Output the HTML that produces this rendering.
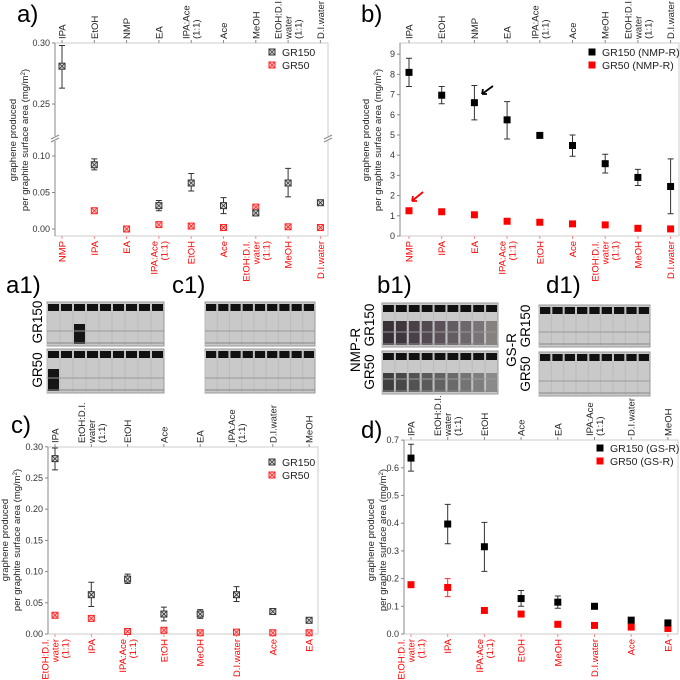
<!DOCTYPE html>
<html><head><meta charset="utf-8"><style>
body{margin:0;background:#fff}
svg{display:block;font-family:"Liberation Sans",sans-serif}
</style></head><body>
<svg id="fig" width="680" height="680" viewBox="0 0 680 680">
<text x="17" y="22" font-size="24">a)</text>
<text x="361" y="22" font-size="24">b)</text>
<text x="6" y="293" font-size="24">a1)</text>
<text x="172" y="293" font-size="24">c1)</text>
<text x="377" y="293" font-size="24">b1)</text>
<text x="546" y="293" font-size="24">d1)</text>
<text x="11" y="433" font-size="24">c)</text>
<text x="361" y="438" font-size="24">d)</text>
<g id="photos"></g>
<g id="charts"></g>
</svg>
<script>
// Panel a
const aTop=["IPA","EtOH","NMP","EA","IPA:Ace|(1:1)","Ace","MeOH","EtOH:D.I.|water|(1:1)","D.I.water"];
const aBot=["NMP","IPA","EA","IPA:Ace|(1:1)","EtOH","Ace","EtOH:D.I.|water|(1:1)","MeOH","D.I.water"];
const aBlack=[0.281,0.088,null,0.032,0.063,0.032,0.022,0.063,0.036];
const aBlackLo=[0.263,0.081,null,0.025,0.052,0.021,0.019,0.044,0.034];
const aBlackHi=[0.298,0.096,null,0.039,0.076,0.043,0.025,0.083,0.038];
const aRed=[null,0.025,0.0,0.006,0.004,0.002,0.030,0.003,0.002];
// Panel b
const bTop=["IPA","EtOH","NMP","EA","IPA:Ace|(1:1)","Ace","MeOH","EtOH:D.I.|water|(1:1)","D.I.water"];
const bBot=["NMP","IPA","EA","IPA:Ace|(1:1)","EtOH","Ace","EtOH:D.I.|water|(1:1)","MeOH","D.I.water"];
const bBlack=[8.1,6.97,6.6,5.75,4.98,4.48,3.58,2.9,2.45];
const bBlackLo=[7.4,6.55,5.75,4.8,4.85,3.95,3.12,2.5,1.1];
const bBlackHi=[8.8,7.4,7.45,6.65,5.1,5.0,4.05,3.3,3.82];
const bRed=[1.25,1.2,1.05,0.73,0.68,0.6,0.55,0.38,0.35];
const bTicks=[0,1,2,3,4,5,6,7,8,9];
// Panel c
const cTop=["IPA","EtOH:D.I.|water|(1:1)","EtOH","Ace","EA","IPA:Ace|(1:1)","D.I.water","MeOH"];
const cBot=["EtOH:D.I.|water|(1:1)","IPA","IPA:Ace|(1:1)","EtOH","MeOH","D.I.water","Ace","EA"];
const cBlack=[0.281,0.063,0.088,0.032,0.032,0.063,0.036,0.022];
const cBlackLo=[0.263,0.044,0.081,0.021,0.025,0.052,0.034,0.019];
const cBlackHi=[0.298,0.083,0.096,0.043,0.039,0.076,0.038,0.025];
const cRed=[0.030,0.025,0.004,0.006,0.002,0.003,0.002,0.002];
const cTicks=[0,0.05,0.10,0.15,0.20,0.25,0.30];
// Panel d
const dTop=["IPA","EtOH:D.I.|water|(1:1)","EtOH","Ace","EA","IPA:Ace|(1:1)","D.I.water","MeOH"];
const dBot=["EtOH:D.I.|water|(1:1)","IPA","IPA:Ace|(1:1)","EtOH","MeOH","D.I.water","Ace","EA"];
const dBlack=[0.635,0.397,0.315,0.128,0.115,0.100,0.050,0.040];
const dBlackLo=[0.588,0.326,0.226,0.100,0.093,0.095,0.047,0.037];
const dBlackHi=[0.685,0.468,0.403,0.157,0.137,0.105,0.053,0.043];
const dRed=[0.178,0.168,0.085,0.072,0.035,0.031,0.025,0.020];
const dRedLo=[0.175,0.135,0.083,0.068,0.033,0.029,0.023,0.018];
const dRedHi=[0.181,0.200,0.087,0.076,0.037,0.033,0.027,0.022];
const dTicks=[0,0.1,0.2,0.3,0.4,0.5,0.6,0.7];

const NS="http://www.w3.org/2000/svg";
const charts=document.getElementById('charts');
function mk(tag,attrs,parent,text){const e=document.createElementNS(NS,tag);for(const k in attrs)e.setAttribute(k,attrs[k]);if(text!==undefined)e.textContent=text;(parent||charts).appendChild(e);return e;}

function rotLabel(g,x,y,label,color,top,name){
  const lines=label.split('|');
  lines.forEach((ln,i)=>{
    const xx=x+(i-(lines.length-1)/2)*10+3.5;
    const t=mk('text',{x:0,y:0,'font-size':9.5,fill:color,'text-anchor':top?'start':'end',transform:`translate(${xx},${y}) rotate(-90)`},g,ln);
    
    
  });
}

function panel(o){
  const g=mk('g',{});
  
  
  const fr=mk('rect',{x:o.x0,y:o.y0,width:o.x1-o.x0,height:o.y1-o.y0,fill:'none',stroke:'#ccc','stroke-width':1},g);
  
  
  mk('line',{x1:o.x0,y1:o.y0,x2:o.x0,y2:o.y1,stroke:'#888','stroke-width':1},g);
  const n=o.top.length;
  const xs=i=>o.cx0+i*o.step;
  for(let i=0;i<n;i++){
    mk('line',{x1:xs(i),y1:o.y0,x2:xs(i),y2:o.y0-3,stroke:'#888'},g);
    mk('line',{x1:xs(i),y1:o.y1,x2:xs(i),y2:o.y1+3,stroke:'#f88'},g);
    rotLabel(g,xs(i),o.y0-4,o.top[i],'#222',true,'top-category-label');
    rotLabel(g,xs(i),o.y1+5,o.bot[i],'#f00',false,'bottom-category-label');
  }
  o.ticks.forEach(t=>{
    const y=o.ys(t);
    mk('line',{x1:o.x0,y1:y,x2:o.x0-3,y2:y,stroke:'#888'},g);
    const tl=mk('text',{x:o.x0-5,y:y+3,'font-size':9,fill:'#333','text-anchor':'end'},g,o.fmt(t));
    
    
  });
  const tt=mk('text',{'font-size':9.5,fill:'#222','text-anchor':'middle',transform:`translate(${o.tx},${o.ty}) rotate(-90)`},g);
  
  
  mk('tspan',{x:0,dy:0},tt,'graphene produced');
  mk('tspan',{x:0,dy:12},tt,'per graphite surface area (mg/m');
  mk('tspan',{dy:-3,'font-size':6},tt,'2');
  mk('tspan',{dy:3},tt,')');
  function marker(x,y,color,name){
    const s=o.ms;
    if(o.cross){
      const m=mk('rect',{x:x-s/2,y:y-s/2,width:s,height:s,fill:color==='#000'?'#ddd':'#fcc',stroke:color==='#000'?'#333':'#f22','stroke-width':1},g);
      
      
      mk('path',{d:`M${x-s/2} ${y-s/2}L${x+s/2} ${y+s/2}M${x+s/2} ${y-s/2}L${x-s/2} ${y+s/2}`,stroke:color==='#000'?'#333':'#f22','stroke-width':0.8},g);
    } else {
      const m=mk('rect',{x:x-s/2,y:y-s/2,width:s,height:s,fill:color==='#000'?'#000':'#f00'},g);
      
      
    }
  }
  function err(x,lo,hi,color){
    if(lo==null)return;
    const a=o.ys(lo),b=o.ys(hi);
    mk('path',{d:`M${x} ${a}L${x} ${b}M${x-3} ${a}L${x+3} ${a}M${x-3} ${b}L${x+3} ${b}`,stroke:color,'stroke-width':1,fill:'none'},g);
  }
  for(let i=0;i<n;i++){
    if(o.red[i]!=null){
      if(o.redLo)err(xs(i),o.redLo[i],o.redHi[i],'#e33');
      marker(xs(i),o.ys(o.red[i]),'#f00','gr50-point');
    }
    if(o.black[i]!=null){
      err(xs(i),o.bLo[i],o.bHi[i],'#333');
      marker(xs(i),o.ys(o.black[i]),'#000','gr150-point');
    }
  }
  o.leg.forEach((L,i)=>{
    const y=o.ly+i*13;
    marker(o.lx,y,i?'#f00':'#000','legend-marker');
    const lt=mk('text',{x:o.lx+10,y:y+4,'font-size':10.5,fill:'#222'},g,L);
    
    
  });
  return g;
}
function aY(v){return v>=0.2? 43+(0.30-v)/0.05*61 : 229-v/0.1*73;}
const ga=panel({name:'chart-a',x0:55,x1:328,y0:43,y1:236,cx0:62,step:32.3,top:aTop,bot:aBot,black:aBlack,bLo:aBlackLo,bHi:aBlackHi,red:aRed,
 ys:aY,ticks:[0,0.05,0.10,0.25,0.30],fmt:v=>v.toFixed(2),tx:16,ty:140,ms:6,cross:true,leg:['GR150','GR50'],lx:272,ly:52});
[55,328].forEach(x=>{mk('rect',{x:x-4,y:136,width:8,height:5,fill:'#fff'},ga);mk('path',{d:`M${x-4} 139L${x+4} 135M${x-4} 142L${x+4} 138`,stroke:'#888'},ga);});
const gb=panel({name:'chart-b',x0:400,x1:679,y0:43,y1:236,cx0:409,step:32.7,top:bTop,bot:bBot,black:bBlack,bLo:bBlackLo,bHi:bBlackHi,red:bRed,
 ys:v=>236-v*20.2,ticks:bTicks,fmt:v=>String(v),tx:369,ty:140,ms:7,cross:false,leg:['GR150 (NMP-R)','GR50 (NMP-R)'],lx:592,ly:52});
mk('path',{d:'M493 86L482 94M482 94l1-5M482 94l5 0',stroke:'#000','stroke-width':1.8,fill:'none'},gb);
mk('path',{d:'M423 192L412 201M412 201l1-5M412 201l5 0',stroke:'#f00','stroke-width':1.8,fill:'none'},gb);
panel({name:'chart-c',x0:48,x1:318,y0:447,y1:634,cx0:55,step:36.3,top:cTop,bot:cBot,black:cBlack,bLo:cBlackLo,bHi:cBlackHi,red:cRed,
 ys:v=>634-v/0.05*31.2,ticks:cTicks,fmt:v=>v.toFixed(2),tx:8,ty:540,ms:6,cross:true,leg:['GR150','GR50'],lx:272,ly:462});
panel({name:'chart-d',x0:404,x1:678,y0:440,y1:634,cx0:411,step:36.7,top:dTop,bot:dBot,black:dBlack,bLo:dBlackLo,bHi:dBlackHi,red:dRed,redLo:dRedLo,redHi:dRedHi,
 ys:v=>634-v*277,ticks:dTicks,fmt:v=>v.toFixed(1),tx:374,ty:540,ms:7,cross:false,leg:['GR150 (GS-R)','GR50 (GS-R)'],lx:600,ly:448});

const ph=document.getElementById('photos');
function photo(x,y,w,h,name,darkCols,darkTop){
  const g=mk('g',{},ph);
  
  
  mk('rect',{x:x,y:y,width:w,height:h,fill:'#c9c9c9',stroke:'#999'},g);
  const cw=w/9;
  for(let i=0;i<9;i++){
    mk('rect',{x:x+i*cw+1,y:y+2,width:cw-2,height:7,fill:'#111'},g);
    mk('line',{x1:x+i*cw,y1:y+2,x2:x+i*cw,y2:y+h,stroke:'#bbb'},g);
    if(darkCols&&darkCols[i])mk('rect',{x:x+i*cw+1,y:y+darkTop,width:cw-2,height:h-darkTop-2,fill:darkCols[i]},g);
  }
  mk('line',{x1:x,y1:y+h-15,x2:x+w,y2:y+h-15,stroke:'#999'},g);
  mk('line',{x1:x,y1:y+h-3,x2:x+w,y2:y+h-3,stroke:'#888'},g);
}
photo(47,302,117,44,'photo-a1-gr150',[null,null,'#151515'],22);
photo(47,349,117,44,'photo-a1-gr50',['#151515'],20);
photo(205,302,110,44,'photo-c1-gr150',null,0);
photo(205,349,110,44,'photo-c1-gr50',null,0);
photo(382,303,116,44,'photo-b1-gr150',['#3a3038','#40363e','#4a4048','#524a50','#5a5258','#635c61','#6d666b','#7a7478','#86807f'],18);
photo(382,351,116,43,'photo-b1-gr50',['#3e3e3e','#484848','#525252','#5a5a5a','#626262','#6a6a6a','#747474','#7e7e7e','#8a8a8a'],22);
photo(539,305,111,42,'photo-d1-gr150',null,0);
photo(539,352,111,44,'photo-d1-gr50',null,0);
const pl=[[42,322,'GR150'],[42,370,'GR50'],[374,325,'GR150'],[374,372,'GR50'],[530,326,'GR150'],[530,374,'GR50']];
pl.forEach(p=>{const t=mk('text',{'font-size':13.5,'text-anchor':'middle',transform:`translate(${p[0]},${p[1]}) rotate(-90)`},ph,p[2]);
 
 });
[[360,350,'NMP-R'],[516,350,'GS-R']].forEach(p=>{const t=mk('text',{'font-size':13.5,'text-anchor':'middle',transform:`translate(${p[0]},${p[1]}) rotate(-90)`},ph,p[2]);
 
 });
</script>
</body></html>
